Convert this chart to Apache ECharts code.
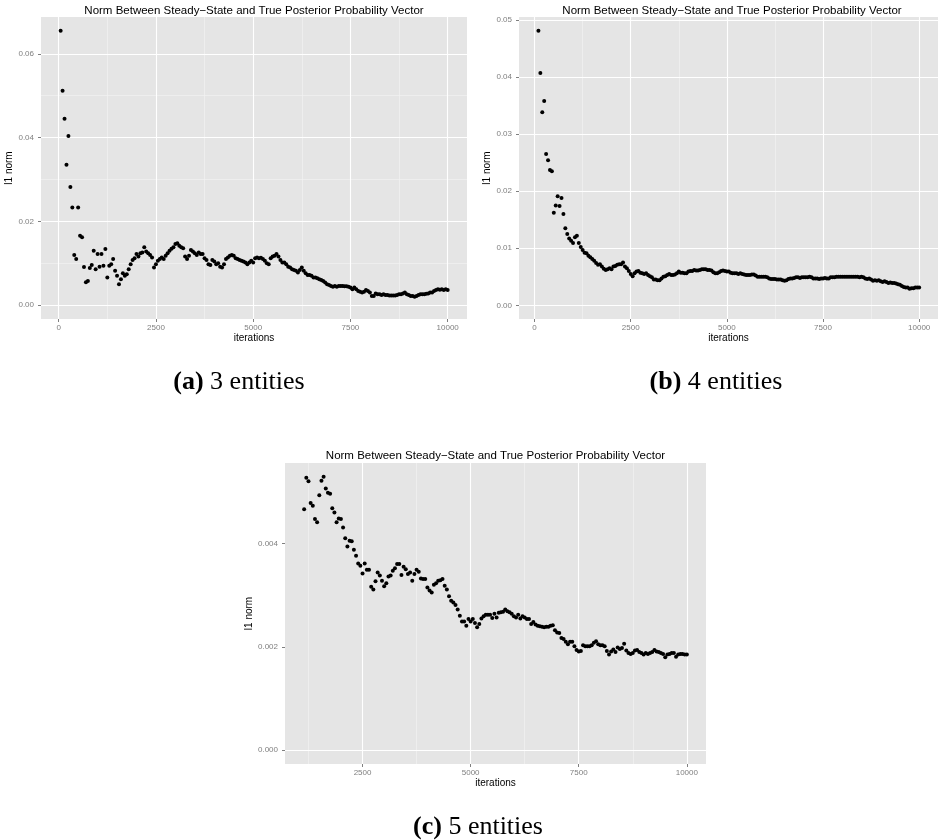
<!DOCTYPE html>
<html>
<head>
<meta charset="utf-8">
<title>Norm Between Steady-State and True Posterior Probability Vector</title>
<script src="https://cdn.jsdelivr.net/npm/echarts@6/dist/echarts.min.js"></script>
<style>
  html, body { margin: 0; padding: 0; background: #fff; }
  #chart { width: 938px; height: 840px; }
</style>
</head>
<body>
<div id="chart"></div>
<script>
// iterations at which the norm was recorded (every run ends at 10000)
const iterations = [
  50, 100, 150, 200, 250, 300, 350, 400, 450, 500, 550, 600, 650, 700, 750, 800, 850, 900, 950, 1000,
  1050, 1100, 1150, 1200, 1250, 1300, 1350, 1400, 1450, 1500, 1550, 1600, 1650, 1700, 1750, 1800, 1850, 1900, 1950, 2000,
  2050, 2100, 2150, 2200, 2250, 2300, 2350, 2400, 2450, 2500, 2550, 2600, 2650, 2700, 2750, 2800, 2850, 2900, 2950, 3000,
  3050, 3100, 3150, 3200, 3250, 3300, 3350, 3400, 3450, 3500, 3550, 3600, 3650, 3700, 3750, 3800, 3850, 3900, 3950, 4000,
  4050, 4100, 4150, 4200, 4250, 4300, 4350, 4400, 4450, 4500, 4550, 4600, 4650, 4700, 4750, 4800, 4850, 4900, 4950, 5000,
  5050, 5100, 5150, 5200, 5250, 5300, 5350, 5400, 5450, 5500, 5550, 5600, 5650, 5700, 5750, 5800, 5850, 5900, 5950, 6000,
  6050, 6100, 6150, 6200, 6250, 6300, 6350, 6400, 6450, 6500, 6550, 6600, 6650, 6700, 6750, 6800, 6850, 6900, 6950, 7000,
  7050, 7100, 7150, 7200, 7250, 7300, 7350, 7400, 7450, 7500, 7550, 7600, 7650, 7700, 7750, 7800, 7850, 7900, 7950, 8000,
  8050, 8100, 8150, 8200, 8250, 8300, 8350, 8400, 8450, 8500, 8550, 8600, 8650, 8700, 8750, 8800, 8850, 8900, 8950, 9000,
  9050, 9100, 9150, 9200, 9250, 9300, 9350, 9400, 9450, 9500, 9550, 9600, 9650, 9700, 9750, 9800, 9850, 9900, 9950, 10000
]

// (a) 3 entities
const normA = [
  0.0655, 0.0512, 0.0445, 0.0335, 0.0404, 0.0282, 0.0233, 0.0120, 0.0110, 0.0233,
  0.0166, 0.0162, 0.0091, 0.0055, 0.0058, 0.0089, 0.0096, 0.0130, 0.0086, 0.0122,
  0.0092, 0.0122, 0.0094, 0.0134, 0.0066, 0.0094, 0.0098, 0.0110, 0.0082, 0.0070,
  0.0050, 0.0062, 0.0076, 0.0070, 0.0074, 0.0086, 0.0098, 0.0108, 0.0112, 0.0122,
  0.0116, 0.0124, 0.0126, 0.0138, 0.0128, 0.0124, 0.0120, 0.0114, 0.0090, 0.0098,
  0.0106, 0.0110, 0.0114, 0.0110, 0.0118, 0.0124, 0.0130, 0.0135, 0.0138, 0.0146,
  0.0148, 0.0142, 0.0138, 0.0136, 0.0116, 0.0110, 0.0118, 0.0132, 0.0128, 0.0124,
  0.0120, 0.0126, 0.0122, 0.0122, 0.0112, 0.0108, 0.0098, 0.0096, 0.0108, 0.0104,
  0.0098, 0.0100, 0.0092, 0.0090, 0.0098, 0.0110, 0.0114, 0.0118, 0.0120, 0.0118,
  0.0112, 0.0110, 0.0108, 0.0106, 0.0104, 0.0102, 0.0098, 0.0102, 0.0106, 0.0102,
  0.0112, 0.0114, 0.0112, 0.0113, 0.0110, 0.0106, 0.0100, 0.0098, 0.0112, 0.0116,
  0.0118, 0.0122, 0.0116, 0.0108, 0.0102, 0.0102, 0.0098, 0.0092, 0.0090, 0.0086,
  0.0084, 0.0082, 0.0078, 0.0084, 0.0090, 0.0082, 0.0076, 0.0072, 0.0072, 0.0070,
  0.0066, 0.0066, 0.0064, 0.0062, 0.0060, 0.0058, 0.0054, 0.0050, 0.0048, 0.0046,
  0.0044, 0.0046, 0.0044, 0.0046, 0.0046, 0.0046, 0.0045, 0.0045, 0.0044, 0.0042,
  0.0038, 0.0042, 0.0038, 0.0034, 0.0032, 0.0030, 0.0032, 0.0036, 0.0034, 0.0030,
  0.0022, 0.0022, 0.0028, 0.0026, 0.0026, 0.0024, 0.0026, 0.0024, 0.0024, 0.0023,
  0.0023, 0.0023, 0.0023, 0.0024, 0.0026, 0.0026, 0.0028, 0.0030, 0.0026, 0.0024,
  0.0022, 0.0022, 0.0020, 0.0022, 0.0024, 0.0026, 0.0026, 0.0026, 0.0027, 0.0028,
  0.0030, 0.0030, 0.0034, 0.0036, 0.0038, 0.0037, 0.0038, 0.0036, 0.0038, 0.0036
]

// (b) 4 entities
const normB = [
  0.0481, 0.0407, 0.0338, 0.0358, 0.0265, 0.0254, 0.0237, 0.0235, 0.0162, 0.0175,
  0.0191, 0.0174, 0.0188, 0.0160, 0.0135, 0.0125, 0.0117, 0.0113, 0.0109, 0.0119,
  0.0122, 0.0109, 0.0102, 0.0097, 0.0092, 0.0091, 0.0087, 0.0084, 0.0081, 0.0078,
  0.0074, 0.0071, 0.0072, 0.0068, 0.0064, 0.0062, 0.0063, 0.0065, 0.0063, 0.0068,
  0.0069, 0.0071, 0.0072, 0.0072, 0.0075, 0.0068, 0.0065, 0.0060, 0.0055, 0.0051,
  0.0056, 0.0059, 0.0060, 0.0057, 0.0056, 0.0055, 0.0056, 0.0053, 0.0051, 0.0049,
  0.0045, 0.0045, 0.0044, 0.0044, 0.0047, 0.0050, 0.0051, 0.0053, 0.0055, 0.0053,
  0.0053, 0.0054, 0.0056, 0.0059, 0.0057, 0.0057, 0.0056, 0.0056, 0.0059, 0.0060,
  0.0060, 0.0062, 0.0061, 0.0061, 0.0062, 0.0063, 0.0063, 0.0063, 0.0062, 0.0062,
  0.0061, 0.0058, 0.0056, 0.0056, 0.0058, 0.0060, 0.0061, 0.0060, 0.0059, 0.0059,
  0.0057, 0.0056, 0.0056, 0.0056, 0.0055, 0.0056, 0.0055, 0.0054, 0.0053, 0.0053,
  0.0053, 0.0054, 0.0054, 0.0052, 0.0050, 0.0050, 0.0050, 0.0050, 0.0050, 0.0049,
  0.0047, 0.0046, 0.0046, 0.0046, 0.0045, 0.0045, 0.0045, 0.0044, 0.0043, 0.0044,
  0.0046, 0.0047, 0.0047, 0.0048, 0.0049, 0.0049, 0.0048, 0.0049, 0.0049, 0.0049,
  0.0049, 0.0050, 0.0049, 0.0047, 0.0047, 0.0047, 0.0046, 0.0047, 0.0047, 0.0048,
  0.0047, 0.0047, 0.0049, 0.0049, 0.0049, 0.0050, 0.0050, 0.0050, 0.0050, 0.0050,
  0.0050, 0.0050, 0.0050, 0.0050, 0.0050, 0.0050, 0.0050, 0.0049, 0.0050, 0.0049,
  0.0047, 0.0046, 0.0047, 0.0045, 0.0043, 0.0044, 0.0043, 0.0044, 0.0042, 0.0041,
  0.0042, 0.0041, 0.0039, 0.0040, 0.0039, 0.0039, 0.0038, 0.0037, 0.0036, 0.0034,
  0.0032, 0.0031, 0.0031, 0.0029, 0.0030, 0.0030, 0.0031, 0.0031, 0.0031
]

// (c) 5 entities
const normC = [
  0.00466, 0.00527, 0.00520, 0.00478, 0.00473, 0.00447, 0.00441, 0.00493, 0.00521, 0.00529,
  0.00506, 0.00498, 0.00496, 0.00468, 0.00460, 0.00441, 0.00448, 0.00447, 0.00431, 0.00410,
  0.00394, 0.00405, 0.00404, 0.00388, 0.00376, 0.00361, 0.00357, 0.00342, 0.00361, 0.00349,
  0.00349, 0.00316, 0.00311, 0.00327, 0.00344, 0.00338, 0.00328, 0.00317, 0.00323, 0.00336,
  0.00338, 0.00347, 0.00352, 0.00360, 0.00360, 0.00339, 0.00355, 0.00350, 0.00341, 0.00344,
  0.00328, 0.00341, 0.00349, 0.00345, 0.00332, 0.00331, 0.00331, 0.00315, 0.00309, 0.00305,
  0.00320, 0.00323, 0.00328, 0.00329, 0.00331, 0.00318, 0.00311, 0.00298, 0.00289, 0.00286,
  0.00281, 0.00272, 0.00260, 0.00249, 0.00249, 0.00241, 0.00254, 0.00249, 0.00254, 0.00246,
  0.00238, 0.00244, 0.00255, 0.00259, 0.00262, 0.00262, 0.00262, 0.00256, 0.00264, 0.00257,
  0.00266, 0.00267, 0.00268, 0.00272, 0.00269, 0.00267, 0.00264, 0.00259, 0.00257, 0.00262,
  0.00255, 0.00259, 0.00257, 0.00254, 0.00254, 0.00244, 0.00248, 0.00243, 0.00241, 0.00240,
  0.00239, 0.00238, 0.00239, 0.00239, 0.00241, 0.00242, 0.00232, 0.00228, 0.00227, 0.00217,
  0.00215, 0.00210, 0.00205, 0.00210, 0.00210, 0.00201, 0.00194, 0.00191, 0.00192, 0.00203,
  0.00201, 0.00201, 0.00201, 0.00203, 0.00208, 0.00211, 0.00205, 0.00203, 0.00203, 0.00201,
  0.00192, 0.00185, 0.00191, 0.00195, 0.00190, 0.00199, 0.00196, 0.00198, 0.00206, 0.00193,
  0.00188, 0.00186, 0.00188, 0.00193, 0.00194, 0.00190, 0.00188, 0.00185, 0.00188, 0.00186,
  0.00188, 0.00190, 0.00194, 0.00191, 0.00190, 0.00188, 0.00186, 0.00180, 0.00185, 0.00186,
  0.00188, 0.00188, 0.00181, 0.00185, 0.00186, 0.00186, 0.00185, 0.00185
]

// axis breaks
const xBreaksAB = [0, 2500, 5000, 7500, 10000]
const xBreaksC = [2500, 5000, 7500, 10000]
const xMinorBreaks = [1250, 3750, 6250, 8750]
const yBreaksA = [0, 0.02, 0.04, 0.06]
const yMinorA = [0.01, 0.03, 0.05]
const yBreaksB = [0, 0.01, 0.02, 0.03, 0.04, 0.05]
const yMinorB = [0.005, 0.015, 0.025, 0.035, 0.045]
const yBreaksC = [0, 0.002, 0.004]
const yMinorC = [0.001, 0.003, 0.005]

const titleText = 'Norm Between Steady\u2212State and True Posterior Probability Vector'
const sans = 'Liberation Sans'
const serif = 'Liberation Serif'

// layout of the three panels (ggplot-like, limits expanded 5%)
const panels = [
  {
    grid: { left: 41, top: 17, width: 426, height: 302 },
    xMin: -455, xMax: 10497, yMin: -0.0033, yMax: 0.0688,
    xBreaks: xBreaksAB, yBreaks: yBreaksA, yMinor: yMinorA, digits: 2,
    values: normA, yNameGap: 24, titleTop: 5,
    caption: { tag: '(a)', text: ' 3 entities', x: 239, y: 382 }
  },
  {
    grid: { left: 519, top: 17, width: 426, height: 302 },
    xMin: -405, xMax: 10490, yMin: -0.0024, yMax: 0.0505,
    xBreaks: xBreaksAB, yBreaks: yBreaksB, yMinor: yMinorB, digits: 2,
    values: normB, yNameGap: 22, titleTop: 5,
    caption: { tag: '(b)', text: ' 4 entities', x: 716, y: 382 }
  },
  {
    grid: { left: 285, top: 463, width: 421, height: 301 },
    xMin: 707, xMax: 10443, yMin: -0.000265, yMax: 0.005555,
    xBreaks: xBreaksC, yBreaks: yBreaksC, yMinor: yMinorC, digits: 3,
    values: normC, yNameGap: 28, titleTop: 450,
    caption: { tag: '(c)', text: ' 5 entities', x: 478, y: 827 }
  }
]

// pair values with iterations, aligned on the last iteration
function toPoints (vals) {
  const offset = iterations.length - vals.length
  return vals.map((v, i) => [iterations[offset + i], v])
}

function gridLines (p) {
  const minor = { color: '#F2F2F2', width: 0.7, type: 'solid' }
  const major = { color: '#FFFFFF', width: 1.1, type: 'solid' }
  const lines = []
  xMinorBreaks.forEach(v => lines.push({ xAxis: v, lineStyle: minor }))
  p.yMinor.forEach(v => lines.push({ yAxis: v, lineStyle: minor }))
  p.xBreaks.forEach(v => lines.push({ xAxis: v, lineStyle: major }))
  p.yBreaks.forEach(v => lines.push({ yAxis: v, lineStyle: major }))
  return lines
}

const option = {
  animation: false,
  textStyle: { fontFamily: sans },
  title: panels.map(p => ({
    text: titleText,
    left: p.grid.left + p.grid.width / 2,
    top: p.titleTop,
    textAlign: 'center',
    padding: 0,
    textStyle: { fontSize: 11.5, fontWeight: 'normal', color: '#000', fontFamily: sans }
  })),
  grid: panels.map(p => Object.assign({
    show: true,
    backgroundColor: '#E5E5E5',
    borderWidth: 0
  }, p.grid)),
  xAxis: panels.map((p, i) => ({
    gridIndex: i,
    type: 'value',
    min: p.xMin,
    max: p.xMax,
    name: 'iterations',
    nameLocation: 'middle',
    nameGap: 14,
    nameTextStyle: { fontSize: 10, color: '#000', fontFamily: sans },
    axisLine: { show: false, onZero: false },
    axisTick: { show: true, length: 3, customValues: p.xBreaks, lineStyle: { color: '#7F7F7F', width: 1 } },
    axisLabel: {
      customValues: p.xBreaks,
      fontSize: 8,
      color: '#7F7F7F',
      margin: 5,
      fontFamily: sans,
      formatter: v => String(Math.round(v))
    },
    splitLine: { show: false }
  })),
  yAxis: panels.map((p, i) => ({
    gridIndex: i,
    type: 'value',
    min: p.yMin,
    max: p.yMax,
    name: 'l1 norm',
    nameLocation: 'middle',
    nameRotate: 90,
    nameGap: p.yNameGap,
    nameTextStyle: { fontSize: 10, color: '#000', fontFamily: sans },
    axisLine: { show: false, onZero: false },
    axisTick: { show: true, length: 3, customValues: p.yBreaks, lineStyle: { color: '#7F7F7F', width: 1 } },
    axisLabel: {
      customValues: p.yBreaks,
      fontSize: 8,
      color: '#7F7F7F',
      margin: 7,
      fontFamily: sans,
      formatter: v => Number(v).toFixed(p.digits)
    },
    splitLine: { show: false }
  })),
  series: [],
  graphic: panels.map(p => ({
    type: 'text',
    x: p.caption.x,
    y: p.caption.y,
    silent: true,
    style: {
      text: '{b|' + p.caption.tag + '}' + p.caption.text,
      fontFamily: serif,
      fontSize: 26,
      fill: '#000',
      align: 'center',
      verticalAlign: 'middle',
      textAlign: 'center',
      textVerticalAlign: 'middle',
      rich: {
        b: { fontFamily: serif, fontSize: 26, fontWeight: 'bold', fill: '#000' }
      }
    }
  }))
}

// grid lines drawn under the points, then the points themselves
panels.forEach((p, i) => {
  option.series.push({
    type: 'scatter',
    xAxisIndex: i,
    yAxisIndex: i,
    data: [],
    silent: true,
    z: 1,
    markLine: {
      z: 1,
      silent: true,
      animation: false,
      symbol: ['none', 'none'],
      label: { show: false },
      emphasis: { disabled: true },
      data: gridLines(p)
    }
  })
  option.series.push({
    type: 'scatter',
    xAxisIndex: i,
    yAxisIndex: i,
    data: toPoints(p.values),
    symbol: 'circle',
    symbolSize: 4,
    silent: true,
    z: 3,
    itemStyle: { color: '#000', opacity: 1, borderWidth: 0 }
  })
})

const chart = echarts.init(document.getElementById('chart'), null, { renderer: 'canvas' })
chart.setOption(option)
</script>
</body>
</html>
